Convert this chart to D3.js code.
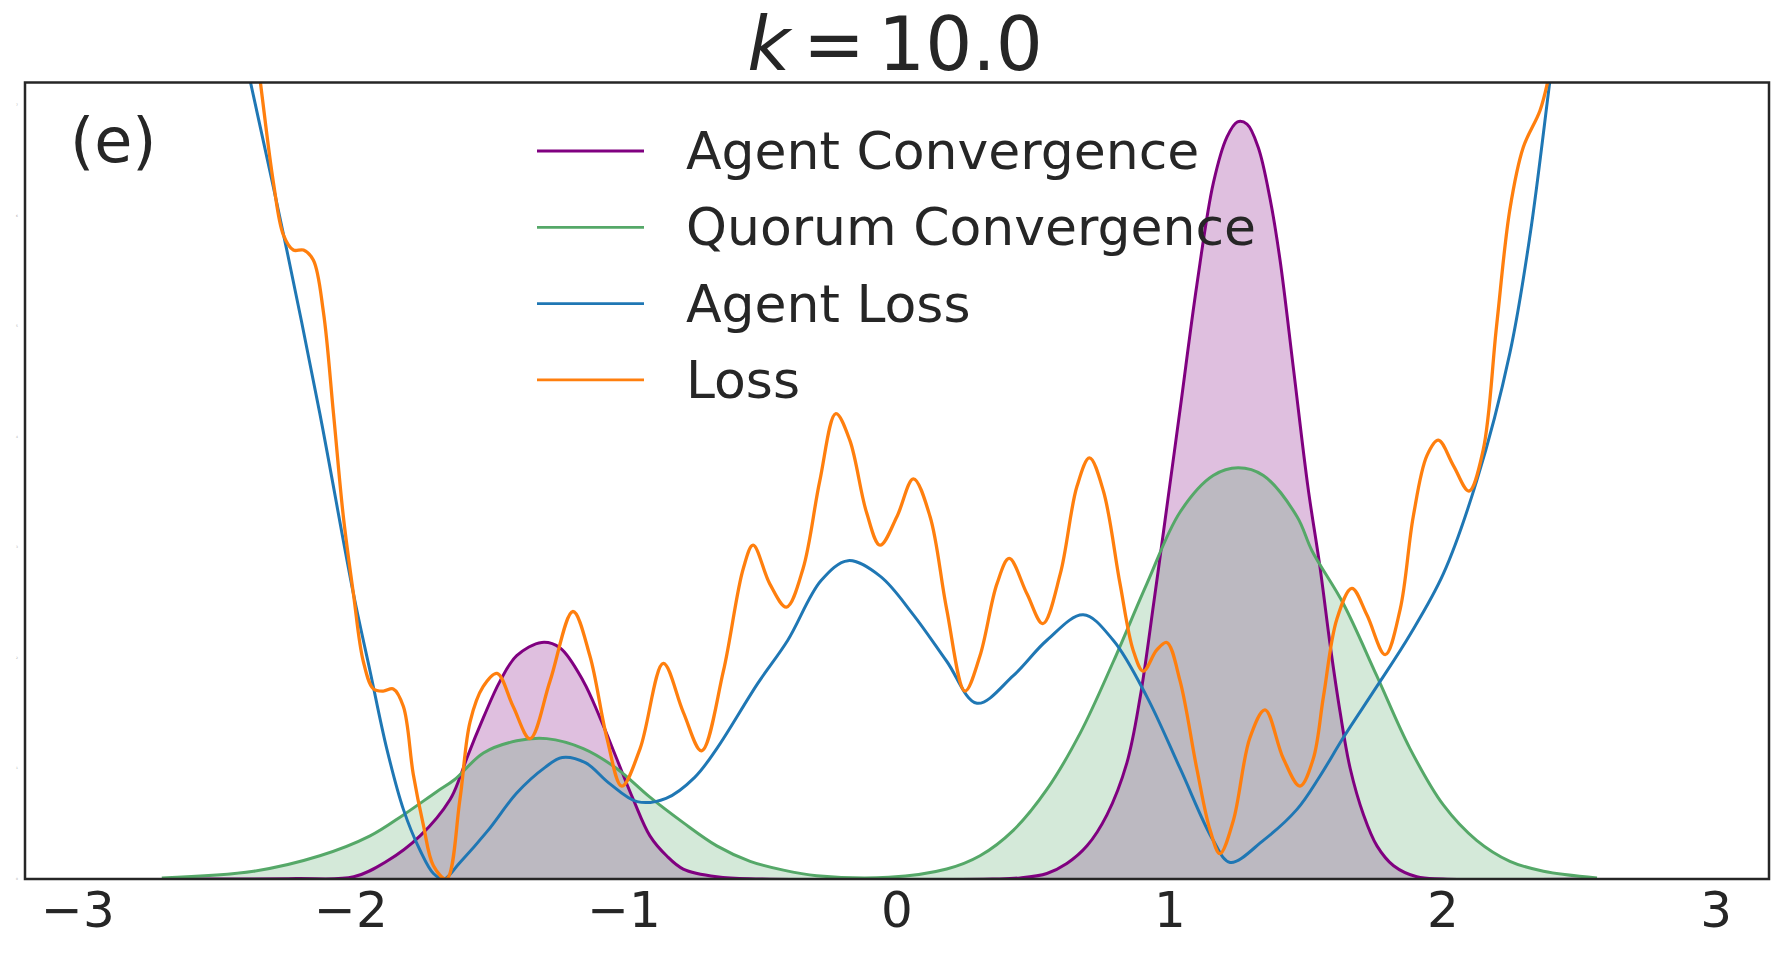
<!DOCTYPE html>
<html>
<head>
<meta charset="utf-8">
<script src="https://cdn.jsdelivr.net/npm/d3@7"></script>
<style>
  body { margin: 0; background: #fff; }
  text { font-family: "DejaVu Sans", sans-serif; fill: #262626; }
</style>
</head>
<body>
<script>
const width = 1785
const height = 953

// [x, y]
const agentConvergence = [
  [-2.69, 0], [-2.42, 0], [-2.2, 0.004], [-1.99, 0.02], [-1.869, 0.16], [-1.747, 0.39],
  [-1.637, 0.72], [-1.601, 0.92], [-1.576, 1.09], [-1.515, 1.46], [-1.454, 1.79],
  [-1.393, 2.02], [-1.301, 2.14], [-1.234, 2.09], [-1.149, 1.79], [-1.088, 1.46],
  [-1.027, 1.09], [-0.966, 0.72], [-0.905, 0.39], [-0.844, 0.21], [-0.783, 0.09],
  [-0.66, 0.02], [-0.5, 0], [0.35, 0], [0.451, 0.01], [0.549, 0.05], [0.622, 0.14],
  [0.696, 0.3], [0.769, 0.58], [0.842, 1.05], [0.891, 1.65], [0.94, 2.49], [0.976, 3.14],
  [1.037, 4.25], [1.098, 5.37], [1.159, 6.3], [1.208, 6.71], [1.247, 6.85], [1.282, 6.83],
  [1.323, 6.62], [1.366, 6.16], [1.403, 5.6], [1.452, 4.62], [1.505, 3.55], [1.55, 2.81],
  [1.587, 2.11], [1.623, 1.51], [1.66, 1.0], [1.709, 0.58], [1.758, 0.3], [1.819, 0.12],
  [1.904, 0.02], [2.0, 0], [2.56, 0]
]

const quorumConvergence = [
  [-2.693, 0.01], [-2.357, 0.07], [-2.114, 0.21], [-1.93, 0.39], [-1.808, 0.58],
  [-1.686, 0.79], [-1.62, 0.9], [-1.515, 1.14], [-1.393, 1.25], [-1.283, 1.27],
  [-1.149, 1.18], [-1.027, 1.0], [-0.905, 0.74], [-0.783, 0.51], [-0.66, 0.3],
  [-0.538, 0.16], [-0.416, 0.08], [-0.294, 0.03], [-0.03, 0.015], [0.182, 0.09],
  [0.304, 0.21], [0.426, 0.44], [0.549, 0.81], [0.671, 1.32], [0.793, 1.97],
  [0.915, 2.67], [1.037, 3.32], [1.158, 3.65], [1.25, 3.72], [1.342, 3.65],
  [1.465, 3.28], [1.52, 2.97], [1.635, 2.49], [1.757, 1.84], [1.879, 1.18],
  [2.001, 0.67], [2.123, 0.35], [2.245, 0.16], [2.368, 0.07], [2.564, 0.01]
]

const agentLoss = [
  [-2.4, 7.57], [-2.37, 7.23], [-2.235, 5.69], [-2.114, 4.21], [-1.991, 2.58],
  [-1.93, 1.88], [-1.869, 1.18], [-1.808, 0.63], [-1.747, 0.26], [-1.698, 0.05],
  [-1.66, 0], [-1.604, 0.14], [-1.498, 0.44], [-1.392, 0.78], [-1.289, 1.01],
  [-1.226, 1.1], [-1.14, 1.05], [-1.056, 0.87], [-0.952, 0.7], [-0.846, 0.73],
  [-0.741, 0.92], [-0.66, 1.18], [-0.51, 1.77], [-0.4, 2.16], [-0.278, 2.7],
  [-0.179, 2.88], [-0.062, 2.74], [0.06, 2.39], [0.182, 1.97], [0.293, 1.59],
  [0.426, 1.84], [0.549, 2.16], [0.682, 2.39], [0.792, 2.16], [0.915, 1.65],
  [1.037, 1.0], [1.158, 0.35], [1.22, 0.15], [1.342, 0.35], [1.465, 0.63],
  [1.549, 0.93], [1.635, 1.28], [1.757, 1.74], [1.879, 2.21], [2.001, 2.76],
  [2.123, 3.6], [2.245, 4.76], [2.319, 5.83], [2.392, 7.23], [2.42, 7.76]
]

const loss = [
  [-2.36, 7.74], [-2.333, 7.23], [-2.284, 6.3], [-2.248, 5.83], [-2.211, 5.69],
  [-2.174, 5.69], [-2.138, 5.6], [-2.101, 5.13], [-2.064, 4.21], [-2.028, 3.28],
  [-1.991, 2.58], [-1.955, 1.97], [-1.918, 1.72], [-1.882, 1.7], [-1.845, 1.72],
  [-1.808, 1.56], [-1.772, 0.95], [-1.735, 0.49], [-1.698, 0.12], [-1.65, 0],
  [-1.601, 0.72], [-1.564, 1.42], [-1.516, 1.74], [-1.465, 1.86], [-1.406, 1.56],
  [-1.344, 1.27], [-1.271, 1.79], [-1.187, 2.42], [-1.125, 2.02], [-1.063, 1.28],
  [-1.008, 0.84], [-0.941, 1.18], [-0.856, 1.95], [-0.783, 1.51], [-0.716, 1.16],
  [-0.636, 1.88], [-0.563, 2.81], [-0.527, 3.02], [-0.466, 2.67], [-0.405, 2.46],
  [-0.344, 2.81], [-0.283, 3.6], [-0.224, 4.21], [-0.173, 3.97], [-0.112, 3.32],
  [-0.062, 3.02], [0.0, 3.28], [0.06, 3.62], [0.121, 3.28], [0.182, 2.44],
  [0.249, 1.7], [0.304, 2.02], [0.366, 2.67], [0.411, 2.9], [0.476, 2.58],
  [0.534, 2.31], [0.598, 2.76], [0.659, 3.55], [0.705, 3.81], [0.756, 3.51],
  [0.817, 2.67], [0.865, 2.07], [0.902, 1.88], [0.951, 2.07], [0.988, 2.14],
  [1.037, 1.79], [1.098, 1.0], [1.147, 0.44], [1.183, 0.23], [1.232, 0.53],
  [1.293, 1.28], [1.348, 1.53], [1.415, 1.09], [1.476, 0.84], [1.525, 1.09],
  [1.562, 1.65], [1.611, 2.35], [1.666, 2.63], [1.721, 2.39], [1.788, 2.03],
  [1.843, 2.44], [1.891, 3.28], [1.941, 3.83], [1.983, 3.97], [2.038, 3.74],
  [2.095, 3.51], [2.147, 3.88], [2.196, 5.0], [2.245, 6.06], [2.294, 6.62],
  [2.355, 6.95], [2.385, 7.23], [2.41, 7.55]
]

const xTicks = [-3, -2, -1, 0, 1, 2, 3]
const yTicks = [0, 1, 2, 3, 4, 5, 6, 7]
const legendNames = ['Agent Convergence', 'Quorum Convergence', 'Agent Loss', 'Loss']
const titleK = 10.0
const panelLabel = '(e)'

// plot box
const boxLeft = 25, boxRight = 1769, boxTop = 82.5, boxBottom = 879

const x = d3.scaleLinear().domain([-3.194, 3.194]).range([boxLeft, boxRight])
const y = d3.scaleLinear().domain([0, 7.206]).range([boxBottom, boxTop])

const colors = ['#800080', '#55a868', '#1f77b4', '#ff7f0e']

const svg = d3.select('body').append('svg')
    .attr('width', width)
    .attr('height', height)

svg.append('defs').append('clipPath')
    .attr('id', 'plot-clip')
  .append('rect')
    .attr('x', boxLeft)
    .attr('y', boxTop)
    .attr('width', boxRight - boxLeft)
    .attr('height', boxBottom - boxTop)

const plot = svg.append('g').attr('clip-path', 'url(#plot-clip)')

const line = d3.line()
    .x(d => x(d[0]))
    .y(d => y(d[1]))
    .curve(d3.curveCatmullRom.alpha(0.5))

const area = d3.area()
    .x(d => x(d[0]))
    .y0(y(0))
    .y1(d => y(d[1]))
    .curve(d3.curveCatmullRom.alpha(0.5))

// filled densities, green goes over purple
plot.append('path')
    .attr('d', area(agentConvergence))
    .style('fill', colors[0])
    .style('fill-opacity', 0.25)

plot.append('path')
    .attr('d', area(quorumConvergence))
    .style('fill', colors[1])
    .style('fill-opacity', 0.25)

// lines
const allSeries = [agentConvergence, quorumConvergence, agentLoss, loss]
const widths = [3, 3, 3, 3.3]
allSeries.forEach((s, i) => {
  plot.append('path')
      .attr('d', line(s))
      .style('fill', 'none')
      .style('stroke', colors[i])
      .style('stroke-width', widths[i])
      .style('stroke-linejoin', 'round')
})

// frame
svg.append('rect')
    .attr('x', boxLeft)
    .attr('y', boxTop)
    .attr('width', boxRight - boxLeft)
    .attr('height', boxBottom - boxTop)
    .style('fill', 'none')
    .style('stroke', '#262626')
    .style('stroke-width', 2.5)

// x tick labels
svg.selectAll('.xtick')
  .data(xTicks)
  .enter().append('text')
    .attr('class', 'xtick')
    .attr('x', d => x(d))
    .attr('y', 927)
    .attr('text-anchor', 'middle')
    .style('font-size', '50px')
    .text(d => d < 0 ? '\u2212' + Math.abs(d) : d)

// y tick labels are almost invisible in the original
svg.selectAll('.ytick')
  .data(yTicks)
  .enter().append('text')
    .attr('class', 'ytick')
    .attr('x', 17)
    .attr('y', d => y(d) + 1)
    .attr('text-anchor', 'middle')
    .style('font-size', '3px')
    .style('fill', '#aaa')
    .text(d => d)

// title  k = 10.0
const title = svg.append('text')
    .attr('x', x(0) - 2)
    .attr('y', 70)
    .attr('text-anchor', 'middle')
    .style('font-size', '74px')
title.append('tspan').style('font-style', 'italic').text('k')
title.append('tspan').attr('dx', 13).text('=')
title.append('tspan').attr('dx', 13).text(titleK.toFixed(1))

// panel label
svg.append('text')
    .attr('x', 70)
    .attr('y', 162)
    .style('font-size', '62px')
    .text(panelLabel)

// legend
const legend = svg.append('g')
legendNames.forEach((name, i) => {
  let ly = 151 + i * 76.3
  legend.append('line')
      .attr('x1', 537)
      .attr('x2', 644)
      .attr('y1', ly)
      .attr('y2', ly)
      .style('stroke', colors[i])
      .style('stroke-width', 2.8)
  legend.append('text')
      .attr('x', 686)
      .attr('y', ly + 18)
      .style('font-size', '52px')
      .text(name)
})
</script>
</body>
</html>
